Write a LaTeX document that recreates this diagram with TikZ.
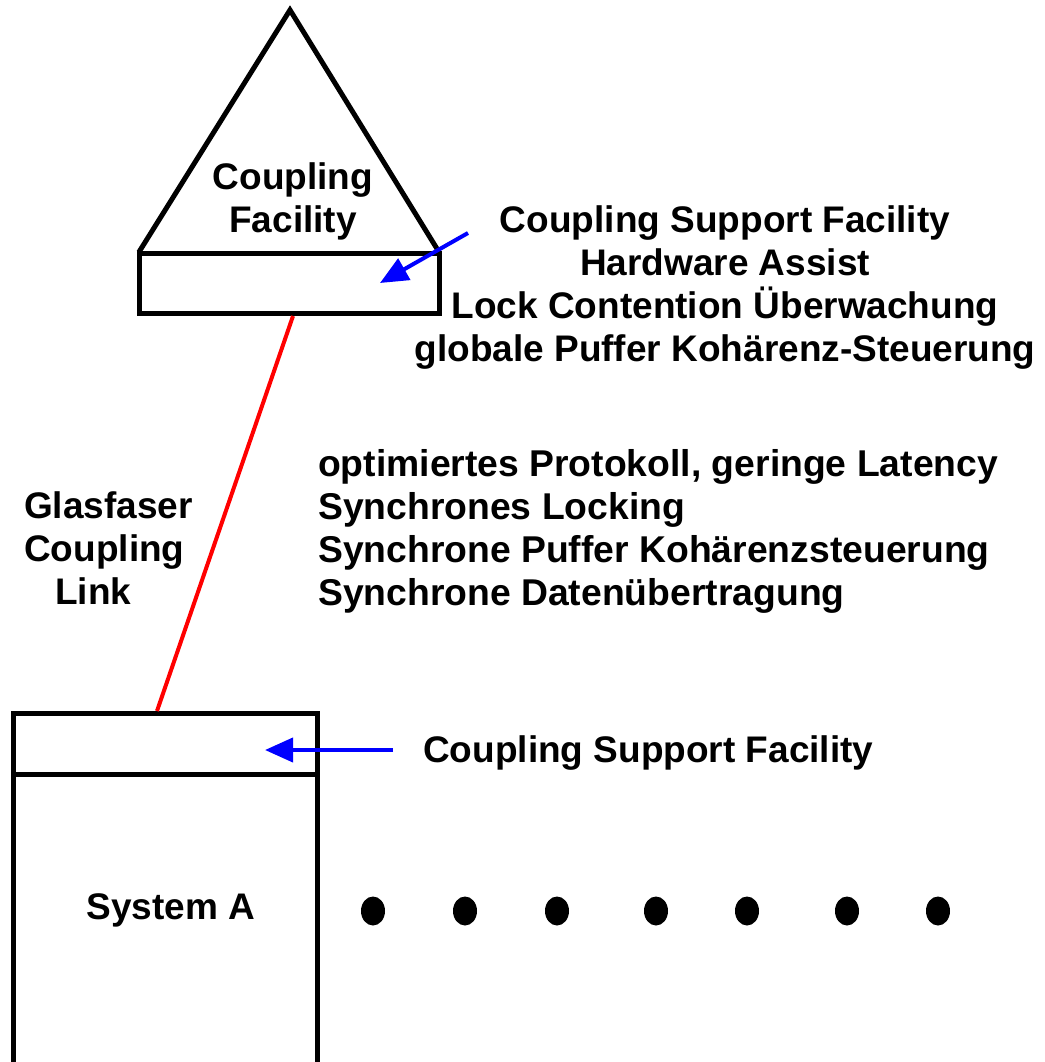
\documentclass[tikz,border=0pt]{standalone}
\usepackage{fontspec}
\setmainfont{Liberation Sans}
\usetikzlibrary{arrows.meta,shapes.geometric}
\tikzset{
  lbl/.style={font=\fontsize{37}{43}\selectfont\bfseries, inner sep=0pt},
  lblwide/.style={font=\fontsize{37.3}{43}\selectfont\bfseries, inner sep=0pt},
  outline/.style={draw=black, line width=5pt},
  bluearrow/.style={draw=blue, line width=4pt, -{Triangle[length=28pt,width=24pt]}},
  redlink/.style={draw=red, line width=4pt},
  blackdot/.style={fill=black, draw=none, ellipse, minimum width=24pt, minimum height=29pt, inner sep=0pt}
}
\begin{document}
\begin{tikzpicture}[x=1pt,y=-1pt]
\useasboundingbox (0,0) rectangle (1044,1062);
\begin{scope}
\clip (0,0) rectangle (1044,1062);
% coupling facility
\draw[outline, line join=miter] (139,252) -- (290,10) -- (439,252);
\draw[outline] (139,253) rectangle (439,313);
\coordinate (cfbot) at (293,316);
\coordinate (cfin) at (380,283);
% system A
\draw[outline] (13,713) rectangle (317,1080);
\draw[outline] (13,774) -- (317,774);
\coordinate (systop) at (157,711);
\coordinate (sysin) at (265,750);
\end{scope}
\node[lbl, align=center] (cftext) at (293,201) {Coupling\\Facility};
\node[lbl, align=center] (csf1) at (725,287.5) {Coupling Support Facility\\Hardware Assist\\Lock Contention Überwachung\\globale Puffer Kohärenz-Steuerung};
\coordinate (csf1arr) at (468,233);
\node[lblwide, align=left, anchor=west] (proto) at (318,531) {optimiertes Protokoll, geringe Latency\\Synchrones Locking\\Synchrone Puffer Kohärenzsteuerung\\Synchrone Datenübertragung};
\node[lbl, align=left, anchor=west] (glas) at (24,548.5) {Glasfaser\\Coupling\\\hspace*{31pt}Link};
\node[lbl, anchor=west] (csf2) at (423,753) {Coupling Support Facility};
\coordinate (csf2arr) at (393,750);
\node[lbl] (sysa) at (171,910) {System A};
% connectors
\draw[redlink] (cfbot) -- (systop);
\draw[bluearrow] (csf1arr) -- (cfin);
\draw[bluearrow] (csf2arr) -- (sysin);
% dots
\foreach \i/\x in {1/373,2/465,3/557,4/656,5/747,6/847,7/938}
  \node[blackdot] (d\i) at (\x,911) {};
\end{tikzpicture}
\end{document}
